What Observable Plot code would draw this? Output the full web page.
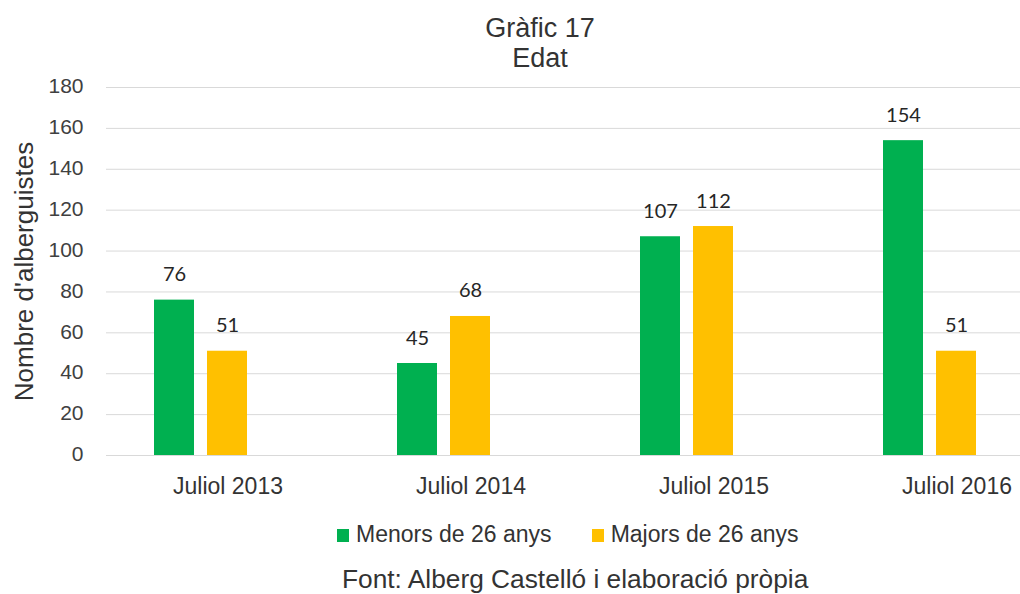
<!DOCTYPE html>
<html>
<head>
<meta charset="utf-8">
<script src="https://cdn.jsdelivr.net/npm/d3@7"></script>
<script src="https://cdn.jsdelivr.net/npm/@observablehq/plot@0.6"></script>
<style>
  html, body { margin: 0; padding: 0; background: white; overflow: hidden; width: 1020px; height: 594px; }
  body { font-family: "Liberation Sans", Arial, sans-serif; color: #333; }
  #title { width: 1080px; text-align: center; font-size: 27px; line-height: 30px; padding-top: 13px; height: 60px; color: #333; }
  #chart { height: 447px; }
  #legend { height: 28px; line-height: 28px; font-size: 23px; padding-left: 337px; white-space: nowrap; color: #333; }
  #legend .sw { display: inline-block; width: 12px; height: 13px; vertical-align: baseline; margin-right: 7px; }
  #legend .item { display: inline-block; margin-right: 40px; }
  #caption { margin-top: 16px; height: 30px; line-height: 30px; font-size: 26.3px; padding-left: 342px; white-space: nowrap; color: #333; }
</style>
</head>
<body>
<div id="title"></div>
<div id="chart"></div>
<div id="legend"></div>
<div id="caption"></div>
<script>
const titleLines = ["Gràfic 17", "Edat"];
const yTitle = "Nombre d'alberguistes";
const captionText = "Font: Alberg Castelló i elaboració pròpia";

const periods = ["Juliol 2013", "Juliol 2014", "Juliol 2015", "Juliol 2016"];
const groups = ["Menors de 26 anys", "Majors de 26 anys"];
const menors = [76, 45, 107, 154];
const majors = [51, 68, 112, 51];
const colors = ["#00b050", "#ffc000"];
const yTicks = [0, 20, 40, 60, 80, 100, 120, 140, 160, 180];

const series = [menors, majors];
const rows = periods.flatMap((p, i) => groups.map((g, j) => ({period: p, group: g, value: series[j][i]})));

document.getElementById("title").innerHTML = titleLines.join("<br>");
document.getElementById("caption").textContent = captionText;

const legend = d3.select("#legend");
groups.forEach((g, j) => {
  const it = legend.append("span").attr("class", "item");
  it.append("span").attr("class", "sw").style("background", colors[j]);
  it.append("span").text(g);
});

const chart = Plot.plot({
  width: 1020,
  height: 447,
  marginTop: 14,
  marginBottom: 65,
  marginLeft: 104,
  marginRight: -59,
  style: {overflow: "hidden", fontFamily: "'Liberation Sans', Arial, sans-serif", background: "white"},
  fx: {domain: periods, padding: 0, label: null},
  x: {domain: groups, paddingInner: 0.24, paddingOuter: 1.375, align: 0.323, axis: null},
  y: {domain: [0, 180], label: null},
  color: {domain: groups, range: colors},
  marks: [
    Plot.ruleY(yTicks, {stroke: "#d9d9d9", strokeWidth: 1}),
    Plot.barY(rows, {fx: "period", x: "group", y: "value", fill: "group"}),
    Plot.text(rows, {fx: "period", x: "group", y: "value", text: d => String(d.value), dy: -19, lineAnchor: "bottom", fontSize: 20, fontFamily: "Lato, sans-serif", fill: "#262626"}),
    Plot.axisY({ticks: yTicks, tickSize: 0, tickPadding: 23, fontSize: 21, label: null, color: "#404040", dy: -1}),
    Plot.axisY({ticks: [], label: yTitle, labelAnchor: "center", labelOffset: 92, labelArrow: "none", fontSize: 26, color: "#333"}),
    Plot.axisFx({anchor: "bottom", tickSize: 0, tickPadding: 22, fontSize: 23, label: null, color: "#333"})
  ]
});
document.getElementById("chart").appendChild(chart);
</script>
</body>
</html>
